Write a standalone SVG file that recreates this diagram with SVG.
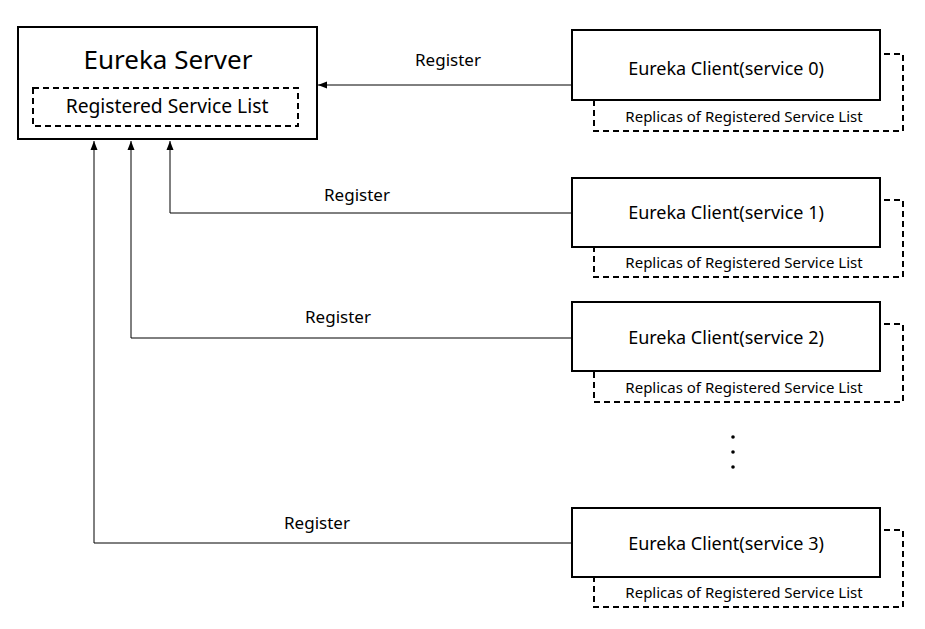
<svg xmlns="http://www.w3.org/2000/svg" width="925" height="629" viewBox="0 0 925 629">
<style>
text{font-family:"Noto Sans","Noto Sans CJK KR",sans-serif;fill:#000;text-anchor:middle}
.box{fill:#fff;stroke:#000;stroke-width:2}
.dash{fill:#fff;stroke:#000;stroke-width:2;stroke-dasharray:6,4}
.conn{fill:none;stroke:#000;stroke-width:1}
.t1{font-size:26px}
.t2{font-size:19.3px}
.t3{font-size:18px}
.t4{font-size:15px}
.lbl{font-size:17px}
</style>
<defs>
<marker id="ah" markerWidth="10" markerHeight="10" refX="9" refY="5" orient="auto" markerUnits="userSpaceOnUse">
<path d="M0,1.5 L9,5 L0,8.5 Z" fill="#000"/>
</marker>
</defs>
<g id="server">
<rect class="box" x="18" y="27" width="299" height="112"/>
<rect class="dash" x="33" y="88" width="265" height="38"/>
<text class="t1" x="168" y="69">Eureka Server</text>
<text class="t2" x="167" y="113">Registered Service List</text>
</g>
<g id="client0">
<rect class="dash" x="594" y="54" width="309" height="77"/>
<rect class="box" x="572" y="30" width="308" height="70"/>
<text class="t3" x="726" y="75">Eureka Client(service 0)</text>
<text class="t4" x="744" y="122">Replicas of Registered Service List</text>
</g>
<g id="client1">
<rect class="dash" x="594" y="200" width="309" height="77"/>
<rect class="box" x="572" y="178" width="308" height="69"/>
<text class="t3" x="726" y="219">Eureka Client(service 1)</text>
<text class="t4" x="744" y="268">Replicas of Registered Service List</text>
</g>
<g id="client2">
<rect class="dash" x="594" y="324" width="309" height="78"/>
<rect class="box" x="572" y="302" width="308" height="69"/>
<text class="t3" x="726" y="344">Eureka Client(service 2)</text>
<text class="t4" x="744" y="393">Replicas of Registered Service List</text>
</g>
<g id="client3">
<rect class="dash" x="594" y="530" width="309" height="77"/>
<rect class="box" x="572" y="508" width="308" height="69"/>
<text class="t3" x="726" y="550">Eureka Client(service 3)</text>
<text class="t4" x="744" y="598">Replicas of Registered Service List</text>
</g>
<g id="dots">
<circle cx="733" cy="437" r="1.8" fill="#000"/>
<circle cx="733" cy="452" r="1.8" fill="#000"/>
<circle cx="733" cy="467" r="1.8" fill="#000"/>
</g>
<g id="connectors">
<path class="conn" d="M572,85 L318,85" marker-end="url(#ah)"/>
<path class="conn" d="M572,213 L170,213 L170,141" marker-end="url(#ah)"/>
<path class="conn" d="M572,338 L131,338 L131,141" marker-end="url(#ah)"/>
<path class="conn" d="M572,543 L94,543 L94,141" marker-end="url(#ah)"/>
<text class="lbl" x="448" y="66">Register</text>
<text class="lbl" x="357" y="201">Register</text>
<text class="lbl" x="338" y="323">Register</text>
<text class="lbl" x="317" y="529">Register</text>
</g>
</svg>
